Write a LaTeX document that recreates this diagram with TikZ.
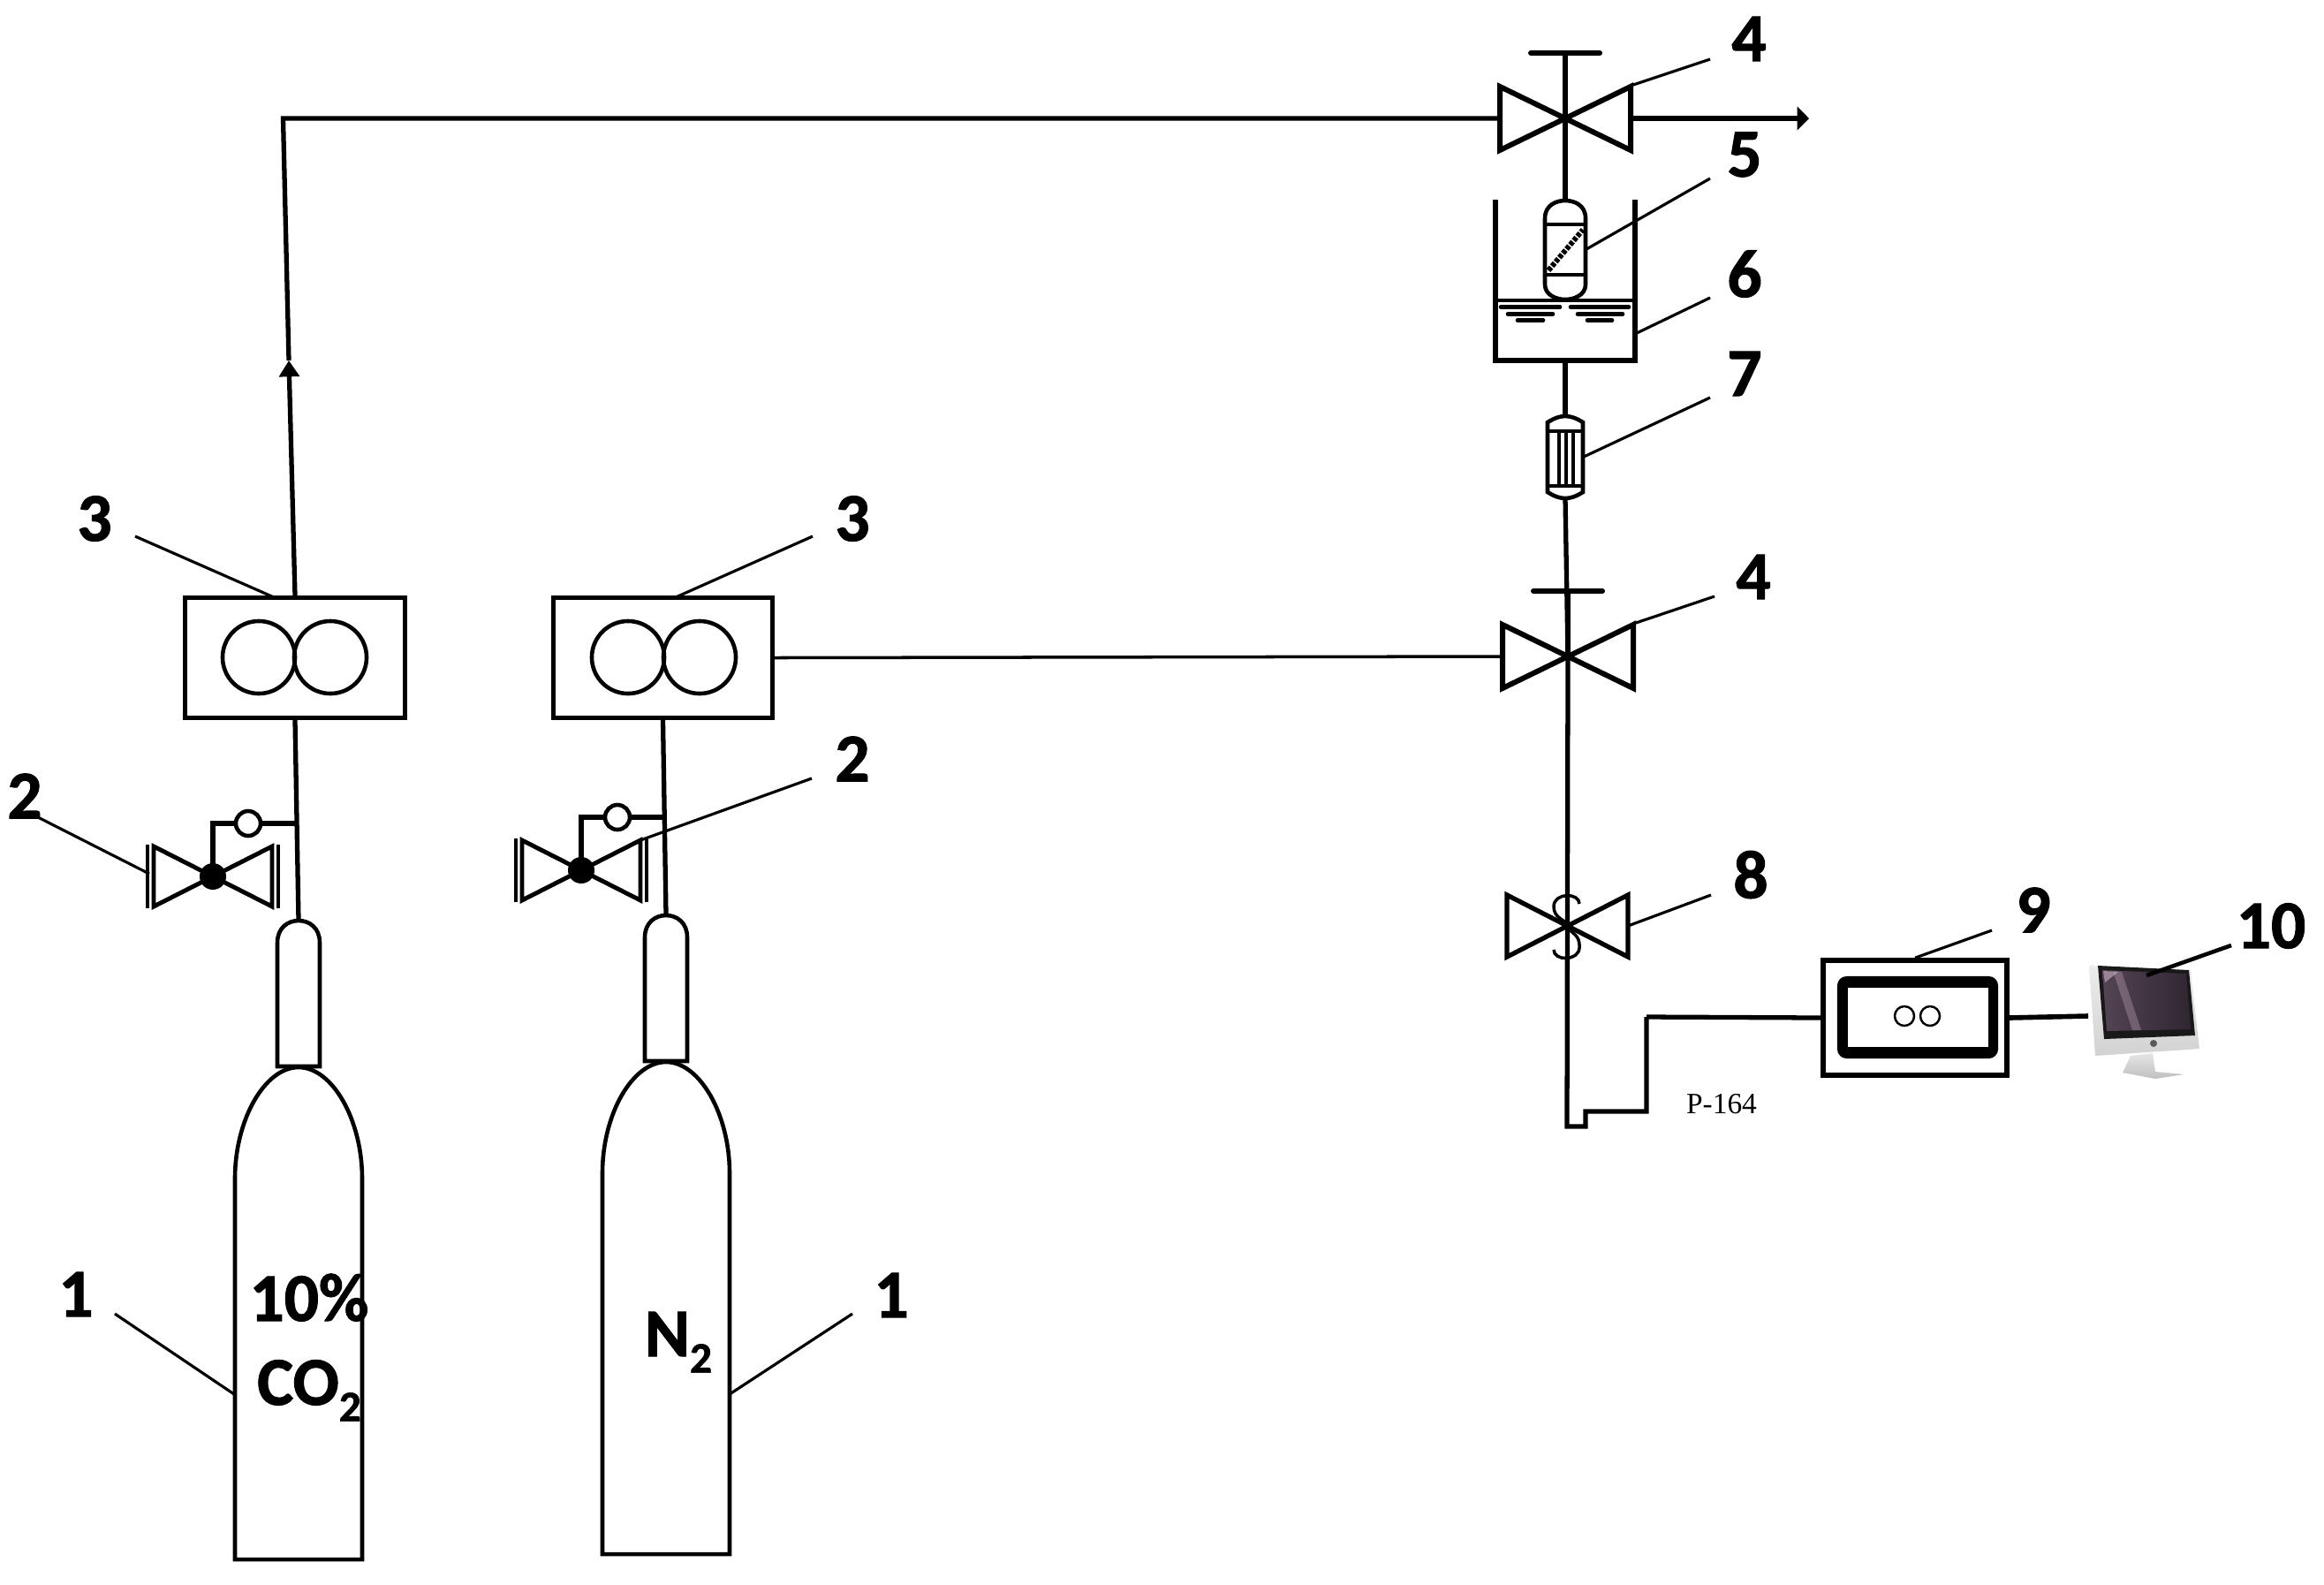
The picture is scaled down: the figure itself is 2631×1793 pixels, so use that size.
\documentclass[tikz,border=0pt]{standalone}
\usepackage{fontspec}
\setmainfont{Carlito}[BoldFeatures={FakeBold=1.4}]
\newfontfamily\plateFont{Liberation Serif}
\usetikzlibrary{arrows.meta}
\newcommand{\subTwo}{\raisebox{-.24em}{\fontsize{14}{14}\selectfont 2}}
\definecolor{screenLight}{RGB}{84,68,84}
\definecolor{screenDark}{RGB}{48,38,50}
\definecolor{screenGlow}{RGB}{214,186,204}

\begin{document}
\begin{tikzpicture}
  [x=0.01cm, y=-0.01cm,
    pipeLine/.style={line width=1.5pt, line join=miter},
    leadLine/.style={line width=0.9pt},
    numLabel/.style={font=\fontsize{22}{26}\selectfont\bfseries, inner sep=0pt},
    gasText/.style={font=\fontsize{22}{26}\selectfont\bfseries, inner sep=0pt, anchor=base},
    gasBox/.style={rectangle, draw, line width=1.4pt, minimum width=2.48cm, minimum height=1.36cm},
    flowCircle/.style={circle, draw, line width=1.3pt, inner sep=0pt, minimum size=0.82cm},
    gaugeCircle/.style={circle, draw, line width=1.3pt, inner sep=0pt, minimum size=0.28cm},
    cylinderPic/.pic={
      \draw[line width=1.3pt] (-24,165) -- (-24,25) .. controls (-24,8) and (-12,0) .. (0,0)
        .. controls (12,0) and (24,8) .. (24,25) -- (24,165) -- cycle;
      \draw[line width=1.3pt] (-72,292) .. controls (-72,225) and (-38,166) .. (0,166)
        .. controls (38,166) and (72,225) .. (72,292) -- (72,723) -- (-72,723) -- cycle;
      \coordinate (-top) at (0,0);
    },
    regValve/.pic={
      \draw[line width=1.4pt] (-67,-34) -- (67,34) -- (67,-34) -- (-67,34) -- cycle;
      \draw[line width=1pt] (-74,-36) -- (-74,36) (74,-36) -- (74,36);
      \fill (0,0) circle [radius=15];
      \coordinate (-mid) at (0,0);
      \coordinate (-west) at (-74,0);
      \coordinate (-ne) at (67,-34);
    },
    handValve/.pic={
      \draw[line width=1.7pt] (-74,-36) -- (74,36) -- (74,-36) -- (-74,36) -- cycle;
      \draw[pipeLine] (0,0) -- (0,-74);
      \draw[line width=1.7pt, line cap=round] (-39,-74) -- (39,-74);
      \coordinate (-mid) at (0,0);
      \coordinate (-west) at (-74,0);
      \coordinate (-east) at (74,0);
      \coordinate (-ne) at (74,-37);
    },
    springValve/.pic={
      \draw[line width=1.5pt] (-69,-35) -- (68,35) -- (68,-35) -- (-69,35) -- cycle;
      \draw[line width=1pt] (13,-25) .. controls (13,-38) and (-16,-38) .. (-16,-22)
        .. controls (-16,-8) and (-3,-8) .. (0,0) .. controls (3,10) and (14,8) .. (13,25)
        .. controls (12,40) and (-16,40) .. (-16,27);
      \coordinate (-east) at (68,0);
    },
    columnPic/.pic={
      \draw[line width=1.3pt] (-23,20) .. controls (-23,5) and (-10,0) .. (0,0)
        .. controls (10,0) and (23,5) .. (23,20) -- (23,95) .. controls (23,107) and (10,112) .. (0,112)
        .. controls (-10,112) and (-23,107) .. (-23,95) -- cycle;
      \draw[line width=1.3pt] (-23,27) -- (23,27) (-23,84) -- (23,84);
      \draw[line width=1.7pt, dash pattern=on 1.3pt off 0.5pt] (-19,79) -- (20,33);
      \coordinate (-top) at (0,0);
      \coordinate (-east) at (24,55);
    },
    filterPic/.pic={
      \draw[line width=1.3pt] (-20,7) .. controls (-12,2) and (-6,0) .. (0,0)
        .. controls (6,0) and (12,2) .. (20,7) -- (20,86) .. controls (12,91) and (6,93) .. (0,93)
        .. controls (-6,93) and (-12,91) .. (-20,86) -- cycle;
      \draw[line width=1.2pt] (-20,17) -- (20,17) (-20,79) -- (20,79);
      \draw[line width=1pt] (-7,17) -- (-7,79) (1,17) -- (1,79) (9,17) -- (9,79);
      \coordinate (-top) at (0,0);
      \coordinate (-bottom) at (0,93);
      \coordinate (-east) at (21,46);
    }]
    \useasboundingbox (0,0) rectangle (2631,1793);

    % cylinders
    \pic (cylA) at (338,1042) {cylinderPic};
    \pic (cylB) at (754,1036) {cylinderPic};
    \node[gasText] (gasPctA) at (350,1495) {10\%};
    \node[gasText] (gasCoA) at (350,1590) {CO\subTwo};
    \node[gasText] (gasNtwoB) at (768,1535) {N\subTwo};

    % flow controllers
    \node[gasBox] (ctrlA) at (334,744.5) {};
    \node[gasBox] (ctrlB) at (750.5,744.5) {};
    \node[flowCircle] (flowA) at (293,744) {};
    \node[flowCircle] at (374,744) {};
    \node[flowCircle] (flowB) at (711,744) {};
    \node[flowCircle] at (792,744) {};

    % pressure valves
    \pic (regA) at (241,992) {regValve};
    \pic (regB) at (658,985) {regValve};
    \node[gaugeCircle] (gaugeA) at (281,932) {};
    \node[gaugeCircle] (gaugeB) at (699,925) {};
    \coordinate (teeA) at (334,932);
    \coordinate (teeB) at (751,925);
    \draw[pipeLine] (ctrlA.south) -- (cylA-top);
    \draw[pipeLine] (ctrlB.south) -- (cylB-top);
    \draw[pipeLine] (teeA) -- (gaugeA.east);
    \draw[pipeLine] (teeB) -- (gaugeB.east);
    \draw[pipeLine] (gaugeA.west) -| (regA-mid);
    \draw[pipeLine] (gaugeB.west) -| (regB-mid);

    % right hand line
    \pic (valveTop) at (1772,134) {handValve};
    \pic (valveLow) at (1775,743) {handValve};
    \pic (valveSpring) at (1775,1048) {springValve};
    \pic (column) at (1772,227) {columnPic};
    \pic (filter) at (1772,471) {filterPic};
    \draw[line width=1.5pt] (1693,226) -- (1693,408) -- (1851,408) -- (1851,226);
    \draw[line width=1.4pt] (1693,340) -- (1851,340);
    \draw[line width=1.3pt, line cap=round] (1699,347.5) -- (1766,347.5) (1778,347.5) -- (1844,347.5)
      (1707,355.5) -- (1758,355.5) (1786,355.5) -- (1837,355.5)
      (1718,362.5) -- (1747,362.5) (1797,362.5) -- (1825,362.5);
    \coordinate (bathBottom) at (1772,408);
    \coordinate (arrowMark) at (327,408);
    \coordinate (cornerTop) at (320.5,134);
    \coordinate (outletEnd) at (2048,134);
    \coordinate (lineEnd) at (1774,1275);
    \coordinate (stepA) at (1795,1275);
    \coordinate (stepB) at (1795,1258);
    \coordinate (stepC) at (1864,1258);
    \coordinate (stepD) at (1864,1151);

    % pipes
    \draw[pipeLine, -{Triangle[length=5.2pt,width=6.4pt]}] (ctrlA.north) -- (arrowMark);
    \draw[pipeLine] (arrowMark) -- (cornerTop) -- (valveTop-west);
    \draw[line width=1.8pt, -{Triangle[length=3.8pt,width=7.4pt]}] (valveTop-east) -- (outletEnd);
    \draw[pipeLine] (valveTop-mid) -- (column-top);
    \draw[pipeLine] (bathBottom) -- (filter-top);
    \draw[pipeLine] (filter-bottom) -- (valveLow-mid);
    \draw[line width=1pt] (ctrlB.east) -- (valveLow-west);
    \draw[pipeLine] (valveLow-mid) -- (lineEnd) -- (stepA) -- (stepB) -- (stepC) -- (stepD);

    % meter
    \node[rectangle, draw, line width=1.6pt, minimum width=2.08cm, minimum height=1.3cm] (meter) at (2168,1152) {};
    \node[rectangle, fill=black, rounded corners=3pt, minimum width=1.82cm, minimum height=0.93cm] (meterBack) at (2171,1151.5) {};
    \node[rectangle, fill=white, minimum width=1.59cm, minimum height=0.67cm] (meterFace) at (2171.5,1151.5) {};
    \node[circle, draw, line width=0.7pt, inner sep=0pt, minimum size=0.22cm] (dialA) at (2156,1150) {};
    \node[circle, draw, line width=0.7pt, inner sep=0pt, minimum size=0.22cm] (dialB) at (2185,1150) {};
    \draw[pipeLine] (stepD) -- (meter.west);
    \node[font=\plateFont\fontsize{9.5}{11}\selectfont, inner sep=0pt] (plate) at (1949,1250) {P-164};

    % monitor
    \shade[top color=gray!20, bottom color=gray!50] (2412,1195) -- (2437,1192) -- (2440,1213) -- (2473,1216)
      -- (2440,1221) -- (2403,1214) -- cycle;
    \shade[top color=gray!15, bottom color=gray!35] (2365,1093) -- (2480,1098) -- (2490,1187) -- (2372,1195) -- cycle;
    \fill[black!90] (2375,1093) -- (2478,1098) -- (2485,1172) -- (2382,1176) -- cycle;
    \shade[left color=screenLight, right color=screenDark] (2380,1098) -- (2475,1102) -- (2480,1165) -- (2385,1167) -- cycle;
    \fill[screenGlow, opacity=.3] (2392,1099) -- (2402,1100) -- (2424,1166) -- (2414,1166) -- cycle;
    \fill[screenGlow, opacity=.55] (2381,1099) -- (2398,1100) -- (2383,1112) -- cycle;
    \fill[black!65] (2438,1181) circle [radius=4];
    \coordinate (monitorWest) at (2364,1150);
    \coordinate (monitorScreen) at (2430,1104);
    \draw[line width=1.6pt] (meter.east) -- (monitorWest);

    % numbers and their leaders
    \node[numLabel] (numOneA) at (86,1465) {1};
    \node[numLabel] (numOneB) at (1009,1466) {1};
    \node[numLabel] (numTwoA) at (28,901) {2};
    \node[numLabel] (numTwoB) at (965,859) {2};
    \node[numLabel] (numThreeA) at (107,587) {3};
    \node[numLabel] (numThreeB) at (965,587) {3};
    \node[numLabel] (numFourA) at (1980,44) {4};
    \node[numLabel] (numFourB) at (1985,653) {4};
    \node[numLabel] (numFive) at (1975,175) {5};
    \node[numLabel] (numSix) at (1975,310) {6};
    \node[numLabel] (numSeven) at (1975,423) {7};
    \node[numLabel] (numEight) at (1982,990) {8};
    \node[numLabel] (numNine) at (2302,1030) {9};
    \node[numLabel] (numTen) at (2571,1048) {10};

    \coordinate (footOneA) at (130,1487);
    \coordinate (tipOneA) at (265,1578);
    \coordinate (footOneB) at (965,1487);
    \coordinate (tipOneB) at (826,1578);
    \coordinate (footTwoA) at (43,925);
    \coordinate (tipTwoA) at (169,989);
    \coordinate (footTwoB) at (919,881);
    \coordinate (footThreeA) at (153,607);
    \coordinate (tipThreeA) at (310,676);
    \coordinate (footThreeB) at (920,607);
    \coordinate (tipThreeB) at (765,676);
    \coordinate (footFourA) at (1936,67);
    \coordinate (footFourB) at (1941,675);
    \coordinate (footFive) at (1936,202);
    \coordinate (footSix) at (1936,337);
    \coordinate (tipSix) at (1853,377);
    \coordinate (footSeven) at (1936,450);
    \coordinate (footEight) at (1937,1013);
    \coordinate (footNine) at (2255,1053);
    \coordinate (footTen) at (2526,1070);

    \draw[leadLine] (footOneA) -- (tipOneA);
    \draw[leadLine] (footOneB) -- (tipOneB);
    \draw[leadLine] (footTwoA) -- (tipTwoA);
    \draw[leadLine] (footTwoB) -- (regB-ne);
    \draw[leadLine] (footThreeA) -- (tipThreeA);
    \draw[leadLine] (footThreeB) -- (tipThreeB);
    \draw[leadLine] (footFourA) -- (valveTop-ne);
    \draw[leadLine] (footFourB) -- (valveLow-ne);
    \draw[leadLine] (footFive) -- (column-east);
    \draw[leadLine] (footSix) -- (tipSix);
    \draw[leadLine] (footSeven) -- (filter-east);
    \draw[leadLine] (footEight) -- (valveSpring-east);
    \draw[leadLine] (footNine) -- (meter.north);
    \draw[leadLine, line width=1.3pt] (footTen) -- (monitorScreen);
\end{tikzpicture}
\end{document}
